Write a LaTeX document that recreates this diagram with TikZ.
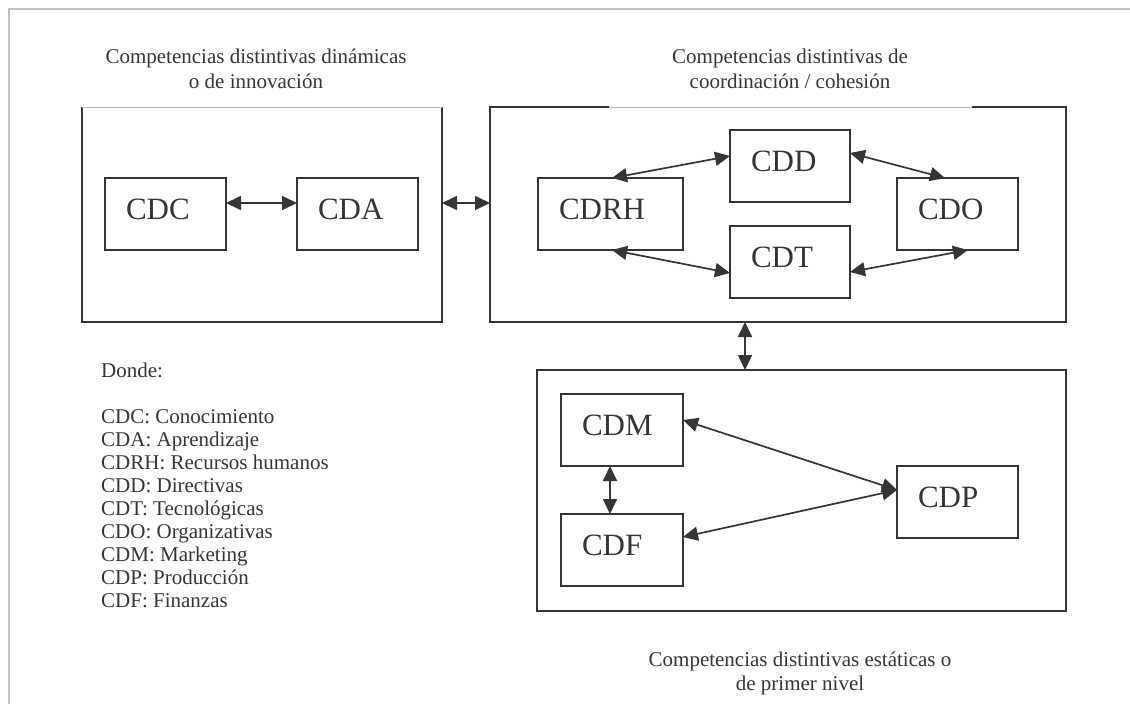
\documentclass[tikz,border=0pt]{standalone}
\usepackage{fontspec}
\setmainfont{Liberation Serif}
\usetikzlibrary{arrows.meta,calc}
\definecolor{ink}{HTML}{353535}
\definecolor{framecol}{HTML}{C8BEBC}
\definecolor{faint}{HTML}{B4B4B4}

\begin{document}
\begin{tikzpicture}[x=1pt,y=-1pt,
  comp/.style={draw=ink, line width=1.7pt, rectangle, anchor=north west,
    inner xsep=21pt, inner ysep=0pt, outer sep=0pt, text width=#1, align=left,
    text height=41pt, text depth=31pt, font=\fontsize{31}{36}\selectfont, text=ink},
  comp/.default=79pt,
  region/.style={rectangle, anchor=north west, inner sep=0pt, outer sep=0pt, draw=none},
  boxline/.style={draw=ink, line width=1.7pt, line join=miter},
  thinline/.style={draw=faint, line width=0.8pt},
  link/.style={draw=ink, line width=1.7pt,
    {Triangle[length=15pt,width=14pt]}-{Triangle[length=15pt,width=14pt]}},
  title/.style={anchor=base, inner sep=0pt, font=\fontsize{21}{25}\selectfont, text=ink},
  legend/.style={anchor=base west, inner sep=0pt, font=\fontsize{21}{25}\selectfont, text=ink}]

\useasboundingbox (0,0) rectangle (1130,704);

% page frame (left and top edges only)
\draw[framecol, line width=2pt] (8.5,704) -- (8.5,9) -- (1130,9);

% group areas
\node[region, minimum width=360pt, minimum height=215pt] (L) at (82,107) {};
\node[region, minimum width=576pt, minimum height=215pt] (M) at (490,107) {};
\node[region, minimum width=529pt, minimum height=241pt] (B) at (537,370) {};

% group outlines: the top edges are partly faint
\draw[boxline] (L.north west) -- (L.south west) -- (L.south east) -- (L.north east);
\draw[thinline] (L.north west) -- (L.north east);
\draw[boxline] ($(M.north west)+(119,0)$) -- (M.north west) -- (M.south west)
  -- (M.south east) -- (M.north east) -- ($(M.north east)+(-94,0)$);
\draw[thinline] ($(M.north west)+(119,0)$) -- ($(M.north east)+(-94,0)$);
\draw[boxline] (B.north west) rectangle (B.south east);

% group titles
\node[title] (tl1) at (256,63) {Competencias distintivas dinámicas};
\node[title] (tl2) at (256,88) {o de innovación};
\node[title] (tm1) at (790,63) {Competencias distintivas de};
\node[title] (tm2) at (790,88) {coordinación / cohesión};
\node[title] (tb1) at (800,666) {Competencias distintivas estáticas o};
\node[title] (tb2) at (800,690) {de primer nivel};

% competence boxes
\node[comp] (CDC) at (105,178) {CDC};
\node[comp] (CDA) at (297,178) {CDA};
\node[comp=103pt] (CDRH) at (538,178) {CDRH};
\node[comp=78pt] (CDD) at (730,130) {CDD};
\node[comp=78pt] (CDT) at (730,226) {CDT};
\node[comp] (CDO) at (897,178) {CDO};
\node[comp=80pt] (CDM) at (561,394) {CDM};
\node[comp=80pt] (CDF) at (561,514) {CDF};
\node[comp] (CDP) at (897,466) {CDP};

% connections
\draw[link] ($(CDC.north east)+(0,25)$) -- ($(CDA.north west)+(0,25)$);
\draw[link] ($(L.north east)+(0,96)$) -- ($(M.north west)+(0,96)$);
\draw[link] ($(CDRH.north west)+(74,0)$) -- ($(CDD.north west)+(0,26)$);
\draw[link] ($(CDRH.south west)+(74,0)$) -- ($(CDT.north west)+(0,47)$);
\draw[link] ($(CDD.north east)+(0,23)$) -- ($(CDO.north west)+(48,0)$);
\draw[link] ($(CDT.north east)+(0,46)$) -- ($(CDO.south west)+(71,0)$);
\draw[link] ($(M.south west)+(255,0)$) -- ($(B.north west)+(208,0)$);
\draw[link] ($(CDM.south west)+(49,0)$) -- ($(CDF.north west)+(49,0)$);
\draw[link] ($(CDM.north east)+(0,26)$) -- ($(CDP.north west)+(0,24)$);
\draw[link] ($(CDF.north east)+(0,23)$) -- ($(CDP.north west)+(0,24)$);

% legend
\node[legend] (leg0) at (101,377) {Donde:};
\foreach \t [count=\i] in {CDC: Conocimiento, CDA: Aprendizaje,
    CDRH: Recursos humanos, CDD: Directivas, CDT: Tecnológicas,
    CDO: Organizativas, CDM: Marketing, CDP: Producción, CDF: Finanzas}
  \node[legend] (leg\i) at (101,{423+23*(\i-1)}) {\t};

\end{tikzpicture}
\end{document}
